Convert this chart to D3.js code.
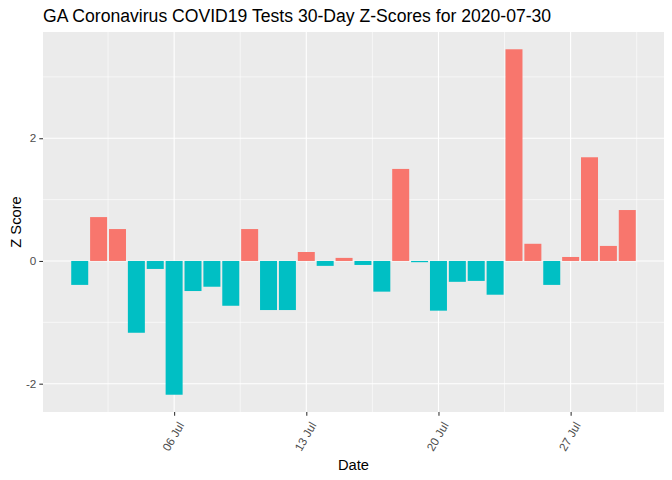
<!DOCTYPE html>
<html><head><meta charset="utf-8">
<script src="https://cdn.jsdelivr.net/npm/d3@7"></script>
<style>body{margin:0;background:#fff}svg{display:block}text{font-family:"Liberation Sans",Arial,sans-serif}</style>
</head><body><svg id="c" width="672" height="480"></svg>
<script>
const dates = ["2020-07-01","2020-07-02","2020-07-03","2020-07-04","2020-07-05","2020-07-06","2020-07-07","2020-07-08","2020-07-09","2020-07-10","2020-07-11","2020-07-12","2020-07-13","2020-07-14","2020-07-15","2020-07-16","2020-07-17","2020-07-18","2020-07-19","2020-07-20","2020-07-21","2020-07-22","2020-07-23","2020-07-24","2020-07-25","2020-07-26","2020-07-27","2020-07-28","2020-07-29","2020-07-30"];
const zscores = [-0.39,0.715,0.52,-1.17,-0.13,-2.18,-0.49,-0.42,-0.73,0.52,-0.80,-0.80,0.146,-0.08,0.05,-0.065,-0.50,1.50,-0.02,-0.81,-0.34,-0.325,-0.55,3.45,0.28,-0.39,0.065,1.69,0.245,0.83];
const xTicks = ["2020-07-06","2020-07-13","2020-07-20","2020-07-27"];
const yTicks = [-2,0,2];
const title = "GA Coronavirus COVID19 Tests 30-Day Z-Scores for 2020-07-30";

const parse = d3.utcParse("%Y-%m-%d");
const DAY = 864e5;
const data = dates.map((d,i)=>({date:parse(d), v:zscores[i]}));
const svg = d3.select("#c");
const L=43, R=664, T=32, B=412;

const half = 0.45*DAY;
const x0 = +data[0].date - half, x1 = +data[data.length-1].date + half;
const xp = (x1-x0)*0.05;
const x = d3.scaleUtc().domain([new Date(x0-xp), new Date(x1+xp)]).range([L,R]);
const ymin = d3.min(zscores), ymax = d3.max(zscores);
const yp = (ymax-ymin)*0.05;
const y = d3.scaleLinear().domain([ymin-yp, ymax+yp]).range([B,T]);

svg.append("rect").attr("x",L).attr("y",T).attr("width",R-L).attr("height",B-T).attr("fill","#EBEBEB");

// grid
const xMajor = xTicks.map(parse);
const xMinor = [];
const allX = [new Date(+xMajor[0]-7*DAY), ...xMajor, new Date(+xMajor[xMajor.length-1]+7*DAY)];
for (let i=0;i<allX.length-1;i++){ const m = new Date((+allX[i]+ +allX[i+1])/2); if (x(m)>L && x(m)<R) xMinor.push(m); }
const yMinor = [-1,1,3];
const g = svg.append("g");
g.selectAll(".xm").data(xMinor).join("line").attr("x1",d=>x(d)).attr("x2",d=>x(d)).attr("y1",T).attr("y2",B).attr("stroke","#fff").attr("stroke-width",0.6);
g.selectAll(".ym").data(yMinor).join("line").attr("y1",d=>y(d)).attr("y2",d=>y(d)).attr("x1",L).attr("x2",R).attr("stroke","#fff").attr("stroke-width",0.6);
g.selectAll(".xM").data(xMajor).join("line").attr("x1",d=>x(d)).attr("x2",d=>x(d)).attr("y1",T).attr("y2",B).attr("stroke","#fff").attr("stroke-width",1.1);
g.selectAll(".yM").data(yTicks).join("line").attr("y1",d=>y(d)).attr("y2",d=>y(d)).attr("x1",L).attr("x2",R).attr("stroke","#fff").attr("stroke-width",1.1);

// bars
svg.append("g").selectAll("rect").data(data).join("rect")
  .attr("x",d=>x(new Date(+d.date-half)))
  .attr("width",d=>x(new Date(+d.date+half))-x(new Date(+d.date-half)))
  .attr("y",d=>y(Math.max(0,d.v)))
  .attr("height",d=>Math.abs(y(d.v)-y(0)))
  .attr("fill",d=>d.v>0?"#F8766D":"#00BFC4");

// axes
const fmt = d3.utcFormat("%d %b");
const xa = svg.append("g").attr("transform",`translate(0,${B})`)
  .call(d3.axisBottom(x).tickValues(xMajor).tickFormat(fmt).tickSize(3.7).tickSizeOuter(0));
xa.select(".domain").remove();
xa.selectAll("line").attr("stroke","#333").attr("stroke-width",1.07);
xa.selectAll("text").attr("fill","#4D4D4D").style("font-size","11.7px")
  .attr("text-anchor","end").attr("dy",null).attr("y",0)
  .attr("transform","translate(10,13) rotate(-60)");
const ya = svg.append("g").attr("transform",`translate(${L},0)`)
  .call(d3.axisLeft(y).tickValues(yTicks).tickFormat(d=>String(d)).tickSize(3.7).tickSizeOuter(0).tickPadding(3));
ya.select(".domain").remove();
ya.selectAll("line").attr("stroke","#333").attr("stroke-width",1.07);
ya.selectAll("text").attr("fill","#4D4D4D").style("font-size","11.7px");

svg.append("text").attr("x",(L+R)/2).attr("y",470).attr("text-anchor","middle").style("font-size","14.7px").attr("fill","#000").text("Date");
svg.append("text").attr("transform",`translate(21,${(T+B)/2}) rotate(-90)`).attr("text-anchor","middle").style("font-size","14.7px").attr("fill","#000").text("Z Score");
svg.append("text").attr("x",L).attr("y",22).style("font-size","17.6px").attr("fill","#000").text(title);
</script></body></html>
